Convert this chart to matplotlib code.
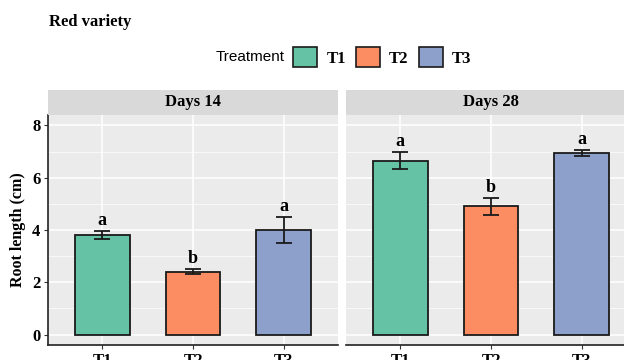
import matplotlib.pyplot as plt
from matplotlib.patches import Patch
from matplotlib.ticker import MultipleLocator

# data
treatments = ["T1", "T2", "T3"]
days = ["Days 14", "Days 28"]
means = {"Days 14": [3.80, 2.40, 4.00], "Days 28": [6.65, 4.90, 6.95]}
errs = {"Days 14": [0.16, 0.10, 0.50], "Days 28": [0.33, 0.33, 0.12]}
letters = {"Days 14": ["a", "b", "a"], "Days 28": ["a", "b", "a"]}
colors = ["#66C2A5", "#FC8D62", "#8DA0CB"]

W, H = 624, 360
serif = "Liberation Serif"
sans = "Liberation Sans"


def rect(l, t, r, b):
    # pixel box -> figure fraction
    return [l / W, 1 - b / H, (r - l) / W, (b - t) / H]


fig = plt.figure(figsize=(W / 100, H / 100), dpi=100)
fig.patch.set_facecolor("white")

panels = [(48, 338), (346, 636)]
for k, (day, (l, r)) in enumerate(zip(days, panels)):
    ax = fig.add_axes(rect(l, 115, r, 345))
    ax.set_facecolor("#EBEBEB")
    x = list(range(1, len(treatments) + 1))
    ax.bar(x, means[day], width=0.6, color=colors, edgecolor="#1a1a1a",
           linewidth=1.3, zorder=3)
    ax.errorbar(x, means[day], yerr=errs[day], fmt="none", ecolor="#1a1a1a",
                elinewidth=1.3, capsize=6, capthick=1.3, zorder=4)
    for xi, m, e, lt in zip(x, means[day], errs[day], letters[day]):
        ax.text(xi, m + e + 0.22, lt, ha="center", va="baseline",
                fontsize=13, fontweight="bold", family=serif, zorder=5)
    ax.set_xlim(0.4, 3.6)
    ax.set_ylim(-0.4, 8.4)
    ax.yaxis.set_major_locator(MultipleLocator(2))
    ax.yaxis.set_minor_locator(MultipleLocator(1))
    ax.set_xticks(x)
    ax.set_xticklabels(treatments, fontsize=12, fontweight="bold", family=serif)
    ax.grid(which="major", color="white", linewidth=1.1, zorder=0)
    ax.grid(which="minor", axis="y", color="white", linewidth=0.5, zorder=0)
    ax.set_axisbelow(True)
    for s in ["top", "right"]:
        ax.spines[s].set_visible(False)
    ax.spines["bottom"].set_color("#222222")
    ax.spines["bottom"].set_linewidth(1.2)
    ax.tick_params(axis="both", which="major", length=3, color="#333333",
                   width=0.8, pad=2.5)
    ax.tick_params(axis="y", which="minor", length=0)
    if k == 0:
        ax.spines["left"].set_color("#222222")
        ax.spines["left"].set_linewidth(1.2)
        ax.set_yticklabels([f"{int(v)}" for v in ax.get_yticks()],
                           fontsize=12, fontweight="bold", family=serif)
        ax.set_ylabel("Root length (cm)", fontsize=11.5, fontweight="bold",
                      family=serif, labelpad=4)
    else:
        ax.spines["left"].set_visible(False)
        ax.tick_params(axis="y", which="both", length=0, labelleft=False)

    # facet strip
    sax = fig.add_axes(rect(l, 90, r, 115))
    sax.set_facecolor("#D9D9D9")
    sax.set_xticks([])
    sax.set_yticks([])
    for s in sax.spines.values():
        s.set_visible(False)
    sax.text(0.5, 0.5, day, transform=sax.transAxes, ha="center",
             va="center", fontsize=12, fontweight="bold", family=serif)

fig.text(49 / W, 1 - 22 / H, "Red variety", ha="left", va="center",
         fontsize=12, fontweight="bold", family=serif)

fig.text(285 / W, 1 - 57 / H, "Treatment", ha="right", va="center",
         fontsize=11, family=sans)
handles = [Patch(facecolor=c, edgecolor="#1a1a1a", linewidth=1.2) for c in colors]
leg = fig.legend(handles, treatments, loc="center left",
                 bbox_to_anchor=(293 / W, 1 - 57 / H), ncol=3, frameon=False,
                 handlelength=1.45, handleheight=1.45, handletextpad=0.55,
                 columnspacing=0.6, borderpad=0, borderaxespad=0,
                 prop={"family": serif, "weight": "bold", "size": 12})

fig.savefig("out.png", dpi=100)
